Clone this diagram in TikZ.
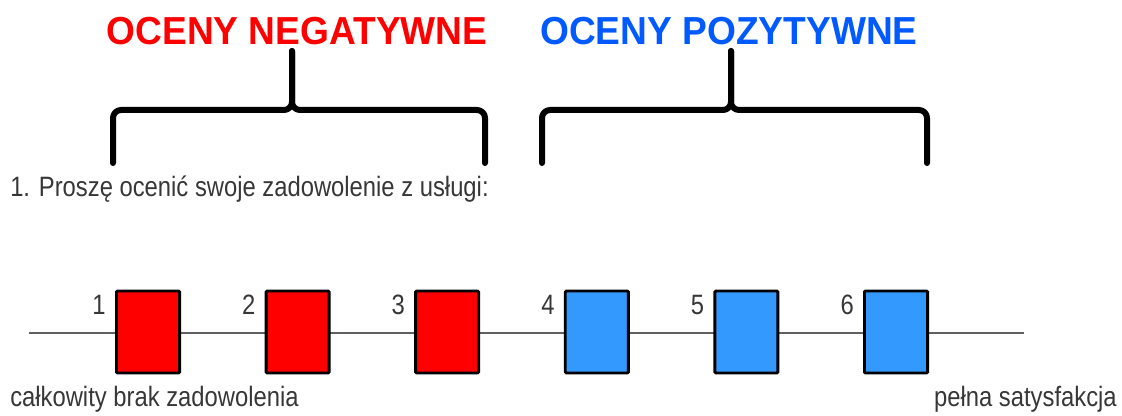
\documentclass[tikz,border=0pt]{standalone}
\usepackage{fontspec}
\setmainfont{Liberation Sans}
\newfontfamily\lblfont[FakeStretch=0.85]{Liberation Sans}
\newfontfamily\ttlfont[FakeStretch=0.95]{Liberation Sans}
\usetikzlibrary{calc}
\definecolor{negred}{RGB}{255,0,0}
\definecolor{posblue}{RGB}{0,90,255}
\definecolor{boxblue}{RGB}{51,153,255}
\definecolor{txtgray}{RGB}{55,55,55}
\begin{document}
\begin{tikzpicture}[x=0.75pt,y=-0.75pt,
	lbl/.style={font=\lblfont\fontsize{21}{25}\selectfont,text=txtgray,inner sep=0pt},
	ttl/.style={font=\ttlfont\bfseries\fontsize{29.3}{34}\selectfont,inner sep=0pt},
	scorebox/.style={draw=black,line width=2.2pt,minimum width=47.3pt,minimum height=61.5pt,inner sep=0pt,rounded corners=0.8pt},
	brace/.style={line width=4.5pt,line cap=round,line join=round,rounded corners=6pt},
	axis/.style={draw=gray!75!black,line width=2pt}]
		\useasboundingbox (0,0) rectangle (1122,416);
		\node[ttl,text=negred,anchor=base] (neg) at (297,45) {OCENY NEGATYWNE};
		\node[ttl,text=posblue,anchor=base] (pos) at (729,45) {OCENY POZYTYWNE};
		\foreach \bl/\bm/\br in {113/292/485,542/731/927} {
			\draw[brace] (\bl,163) -- (\bl,110) -- (\bm,110) -- (\bm,51);
			\draw[brace] (\bm,51) -- (\bm,110) -- (\br,110) -- (\br,163);
		}
		\node[lbl,anchor=base west] (q) at (10,197) {1. Proszę ocenić swoje zadowolenie z usługi:};
		\coordinate (L) at (29,333);
		\coordinate (R) at (1024,333);
		\draw[axis] (L) -- (R);
		\foreach \i/\c in {1/negred,2/negred,3/negred,4/boxblue,5/boxblue,6/boxblue} {
			\node[scorebox,fill=\c] (b\i) at ({148+149.6*(\i-1)},332) {};
			\node[lbl,anchor=base east] (n\i) at ($(b\i.north west)+(-9,25)$) {\i};
		}
		\node[lbl,anchor=base west] (lo) at (10,407) {całkowity brak zadowolenia};
		\node[lbl,anchor=base east] (hi) at (1117,407) {pełna satysfakcja};
\end{tikzpicture}
\end{document}
